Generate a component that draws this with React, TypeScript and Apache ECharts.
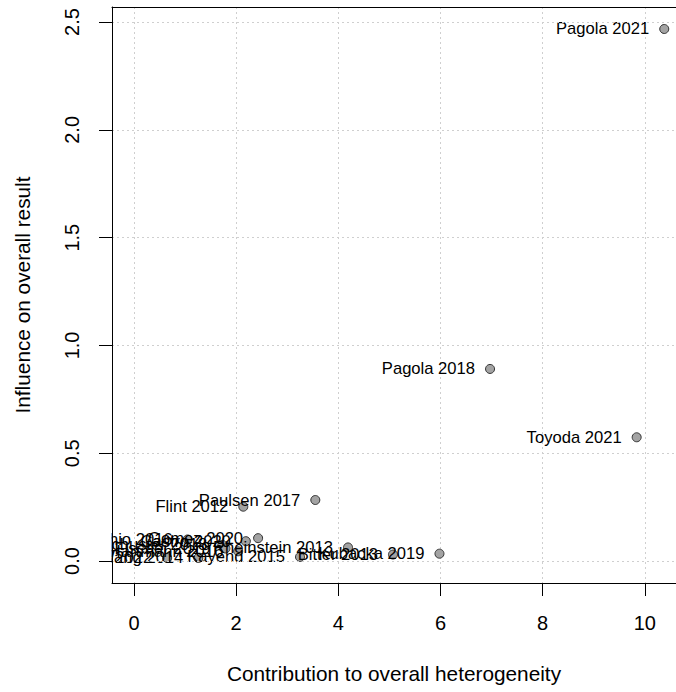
import React, { useEffect, useRef } from "react";
import * as echarts from "echarts";

const studies = [
  "Pagola 2021",
  "Toyoda 2021",
  "Pagola 2018",
  "Paulsen 2017",
  "Flint 2012",
  "Gomez 2020",
  "Castro 2020",
  "Rheinstein 2013",
  "Bitter 2013",
  "Kubacka 2019",
  "Kayend 2015",
  "Wang 2014",
  "Weil 2022",
  "Mathio 2016",
  "Schuster 2018",
  "Fischer 2019",
  "Hartmann 2016",
];
const heterogeneity = [10.38, 9.84, 6.97, 3.55, 2.14, 2.43, 2.19, 4.19, 5.07, 5.98, 3.25, 1.26, 0.65, 1.05, 1.73, 1.79, 2.04];
const influence = [2.468, 0.574, 0.891, 0.283, 0.252, 0.106, 0.092, 0.063, 0.03, 0.034, 0.019, 0.014, 0.014, 0.1, 0.075, 0.058, 0.045];
const xTicks = [0, 2, 4, 6, 8, 10];
const yTicks = [0, 0.5, 1, 1.5, 2, 2.5];

export default function App() {
  const ref = useRef<HTMLDivElement>(null);
  useEffect(() => {
    document.body.style.margin = "0";
    const chart = echarts.init(ref.current!, null, { renderer: "svg" });
    const font = "'Liberation Sans', Arial, sans-serif";
    const data = studies.map((s, i) => ({ name: s, value: [heterogeneity[i], influence[i]] }));
    const grid = { color: "#cfcfcf", type: [2, 3], width: 1 };
    chart.setOption({
      animation: false,
      backgroundColor: "#ffffff",
      grid: {
        left: 112,
        top: 7,
        right: 0,
        bottom: 109,
        show: false,
      },
      xAxis: [
        {
          type: "value",
          min: -0.43,
          max: 10.61,
          name: "Contribution to overall heterogeneity",
          nameLocation: "middle",
          nameGap: 80,
          nameTextStyle: { fontFamily: font, fontSize: 20.8, color: "#000" },
          axisLine: { show: true, onZero: false, lineStyle: { color: "#000", width: 1 } },
          axisTick: { show: true, inside: false, length: 13, customValues: xTicks, lineStyle: { color: "#000", width: 1 } },
          axisLabel: {
            customValues: xTicks,
            margin: 30,
            fontFamily: font,
            fontSize: 20,
            color: "#000",
            formatter: (v: number) => String(v),
          },
          splitLine: { show: true, lineStyle: grid },
        },
        {
          type: "value",
          position: "top",
          min: -0.43,
          max: 10.61,
          axisLine: { show: true, onZero: false, lineStyle: { color: "#000", width: 1 } },
          axisTick: { show: false },
          axisLabel: { show: false },
          splitLine: { show: false },
        },
      ],
      yAxis: {
        type: "value",
        min: -0.102,
        max: 2.57,
        z: 10,
        name: "Influence on overall result",
        nameLocation: "middle",
        nameGap: 79,
        nameRotate: 90,
        nameTextStyle: { fontFamily: font, fontSize: 20.8, color: "#000" },
        axisLine: { show: true, onZero: false, lineStyle: { color: "#000", width: 1 } },
        axisTick: { show: true, inside: false, length: 13, customValues: yTicks, lineStyle: { color: "#000", width: 1 } },
        axisLabel: {
          customValues: yTicks,
          rotate: 90,
          margin: 30,
          fontFamily: font,
          fontSize: 20,
          color: "#000",
          formatter: (v: number) => v.toFixed(1),
        },
        splitLine: { show: true, lineStyle: grid },
      },
      graphic: [
        {
          type: "rect",
          z: 5,
          silent: true,
          shape: { x: 0, y: 522, width: 111.5, height: 50 },
          style: { fill: "#ffffff" },
        },
      ],
      series: [
        {
          type: "scatter",
          data,
          symbol: "circle",
          symbolSize: 9,
          clip: false,
          itemStyle: { color: "#a3a3a3", borderColor: "#333", borderWidth: 1, opacity: 1 },
          label: {
            show: true,
            position: "left",
            distance: 10,
            formatter: (p: any) => p.name,
            fontFamily: font,
            fontSize: 16.6,
            color: "#000",
          },
          labelLayout: { hideOverlap: false },
          emphasis: { disabled: true },
        },
      ],
    });
    return () => chart.dispose();
  }, []);
  return <div ref={ref} style={{ position: "fixed", left: 0, top: 0, width: 676, height: 692 }} />;
}
